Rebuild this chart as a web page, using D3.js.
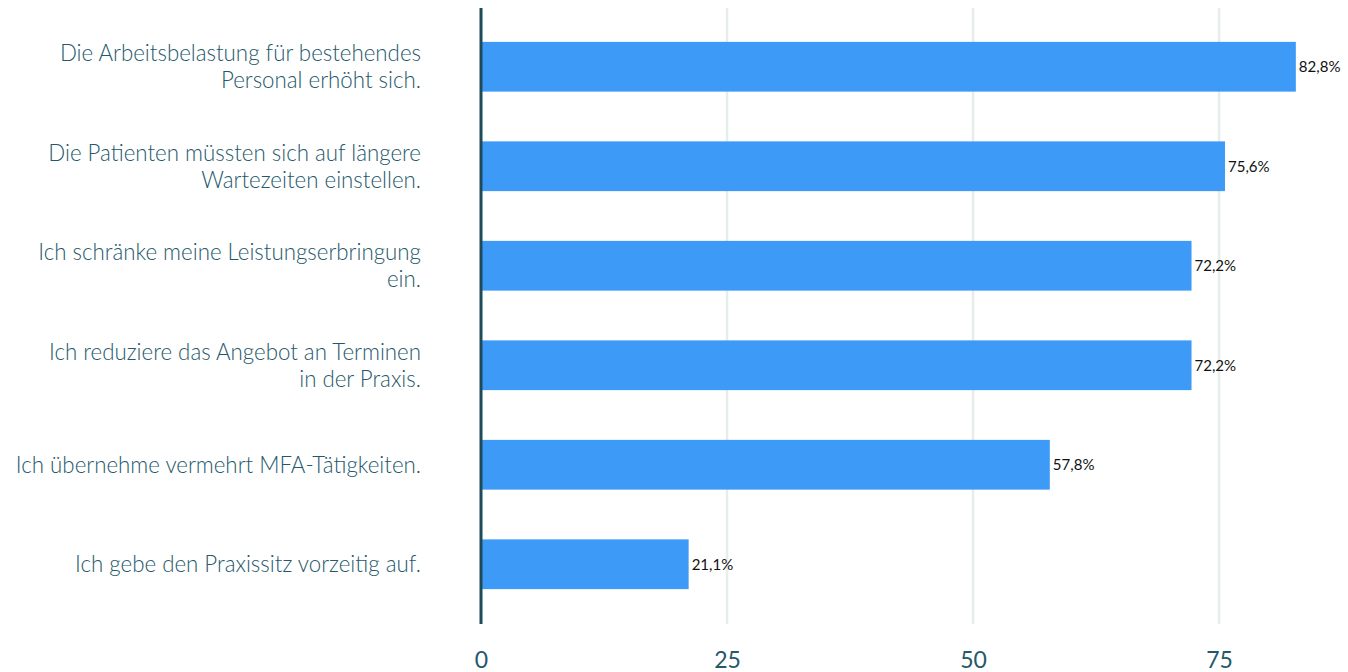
<!DOCTYPE html>
<html>
<head>
<meta charset="utf-8">
<script src="https://cdn.jsdelivr.net/npm/d3@7"></script>
<style>
  html, body { margin: 0; padding: 0; background: #ffffff; }
  svg { display: block; }
</style>
</head>
<body>
<svg id="chart" width="1348" height="672"></svg>
<script>
// Antworten (mehrzeilige Beschriftungen)
const categories = [
  ["Die Arbeitsbelastung für bestehendes", "Personal erhöht sich."],
  ["Die Patienten müssten sich auf längere", "Wartezeiten einstellen."],
  ["Ich schränke meine Leistungserbringung", "ein."],
  ["Ich reduziere das Angebot an Terminen", "in der Praxis."],
  ["Ich übernehme vermehrt MFA-Tätigkeiten."],
  ["Ich gebe den Praxissitz vorzeitig auf."]
];
const values = [82.8, 75.6, 72.2, 72.2, 57.8, 21.1];
const valueLabels = ["82,8%", "75,6%", "72,2%", "72,2%", "57,8%", "21,1%"];
const xTicks = [0, 25, 50, 75];

const svg = d3.select("#chart");
const textColor = "#24586a";
const barColor = "#3d9bf7";

const x = d3.scaleLinear().domain([0, 88.1]).range([481, 1348]);
const y = d3.scaleBand()
  .domain(d3.range(categories.length))
  .range([17, 614])
  .paddingInner(0.5)
  .paddingOuter(0.25);

const plotTop = 8, plotBottom = 624;

// Gitterlinien
svg.append("g")
  .selectAll("line")
  .data(xTicks.filter(t => t > 0))
  .join("line")
  .attr("x1", d => x(d)).attr("x2", d => x(d))
  .attr("y1", plotTop).attr("y2", plotBottom)
  .attr("stroke", "#e7eded")
  .attr("stroke-width", 2.5);

// Balken
svg.append("g")
  .selectAll("rect")
  .data(values)
  .join("rect")
  .attr("x", x(0))
  .attr("y", (d, i) => y(i))
  .attr("width", d => x(d) - x(0))
  .attr("height", y.bandwidth())
  .attr("fill", barColor);

// Werte
svg.append("g")
  .selectAll("text")
  .data(values)
  .join("text")
  .attr("transform", (d, i) => `translate(${x(d) + 3},${y(i) + y.bandwidth() / 2}) scale(0.94,1)`)
  .attr("dy", "0.35em")
  .attr("font-family", "Lato, sans-serif")
  .attr("font-size", 16)
  .attr("fill", "#111111")
  .text((d, i) => valueLabels[i]);

// Y-Achse
svg.append("line")
  .attr("x1", x(0)).attr("x2", x(0))
  .attr("y1", plotTop).attr("y2", plotBottom)
  .attr("stroke", "#1e4b5a")
  .attr("stroke-width", 3);

// Kategoriebeschriftungen
const lineH = 27;
const catG = svg.append("g");
categories.forEach((lines, i) => {
  const cy = y(i) + y.bandwidth() / 2;
  const t = catG.append("text")
    .attr("transform", `translate(421,${cy}) scale(0.97,1)`)
    .attr("text-anchor", "end")
    .attr("font-family", "Lato, sans-serif")
    .attr("font-weight", 300)
    .attr("font-size", 23)
    .attr("fill", textColor);
  lines.forEach((ln, j) => {
    t.append("tspan")
      .attr("x", 0)
      .attr("y", (j - (lines.length - 1) / 2) * lineH)
      .attr("dy", "0.35em")
      .text(ln);
  });
});

// X-Achse
const xAxis = d3.axisBottom(x).tickValues(xTicks).tickSize(0).tickPadding(0);
const ax = svg.append("g")
  .attr("transform", `translate(0,${plotBottom})`)
  .call(xAxis);
ax.select(".domain").remove();
ax.selectAll("text")
  .attr("y", 36)
  .attr("dy", "0.35em")
  .attr("font-family", "Lato, sans-serif")
  .attr("font-size", 23)
  .attr("fill", textColor);
</script>
</body>
</html>
